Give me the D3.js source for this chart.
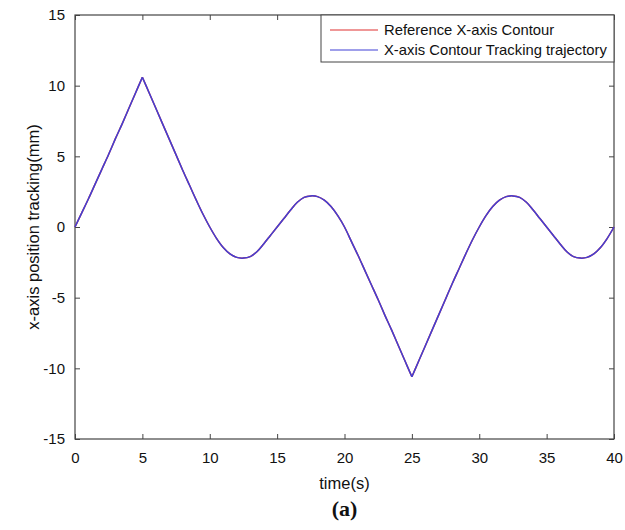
<!DOCTYPE html>
<html>
<head>
<meta charset="utf-8">
<script src="https://cdn.jsdelivr.net/npm/d3@7"></script>
<style>
body { margin: 0; background: #fff; }
text { font-family: "Liberation Sans", Arial, sans-serif; }
</style>
</head>
<body>
<svg id="chart" width="625" height="530"></svg>
<script>
// values (time in s, position in mm)
var timeValues = [0,0.5,1,1.5,2,2.5,3,3.5,4,4.5,5,5.5,6,6.5,7,7.5,8,8.5,9,9.5,
	10,10.5,11,11.5,12,12.5,13,13.5,14,14.5,15,15.5,16,16.5,17,17.5,18,18.5,19,19.5,
	20,20.5,21,21.5,22,22.5,23,23.5,24,24.5,25,25.5,26,26.5,27,27.5,28,28.5,29,29.5,
	30,30.5,31,31.5,32,32.5,33,33.5,34,34.5,35,35.5,36,36.5,37,37.5,38,38.5,39,39.5,40];
var referenceX = [0,1.0,2.0,3.05,4.1,5.15,6.25,7.3,8.4,9.5,10.6,9.5,8.4,7.3,6.2,5.1,4.0,2.95,1.9,0.9,
	0,-0.8,-1.45,-1.9,-2.15,-2.2,-2.1,-1.75,-1.2,-0.6,0,0.6,1.2,1.75,2.1,2.2,2.15,1.9,1.45,0.8,
	0,-1.0,-2.0,-3.05,-4.1,-5.15,-6.25,-7.3,-8.4,-9.5,-10.6,-9.5,-8.4,-7.3,-6.2,-5.1,-4.0,-2.95,-1.9,-0.9,
	0,0.8,1.45,1.9,2.15,2.2,2.1,1.75,1.2,0.6,0,-0.6,-1.2,-1.75,-2.1,-2.2,-2.15,-1.9,-1.45,-0.8,0];
var trackingX = [0,1.0,2.0,3.05,4.1,5.15,6.25,7.3,8.4,9.5,10.6,9.5,8.4,7.3,6.2,5.1,4.0,2.95,1.9,0.9,
	0,-0.8,-1.45,-1.9,-2.15,-2.2,-2.1,-1.75,-1.2,-0.6,0,0.6,1.2,1.75,2.1,2.2,2.15,1.9,1.45,0.8,
	0,-1.0,-2.0,-3.05,-4.1,-5.15,-6.25,-7.3,-8.4,-9.5,-10.6,-9.5,-8.4,-7.3,-6.2,-5.1,-4.0,-2.95,-1.9,-0.9,
	0,0.8,1.45,1.9,2.15,2.2,2.1,1.75,1.2,0.6,0,-0.6,-1.2,-1.75,-2.1,-2.2,-2.15,-1.9,-1.45,-0.8,0];
// sharp corners of the contour (t = 5 and t = 25)
var cornerTimes = [5, 25];
var xTicks = [0,5,10,15,20,25,30,35,40];
var yTicks = [-15,-10,-5,0,5,10,15];
var legendLabels = ["Reference X-axis Contour", "X-axis Contour Tracking trajectory"];
var seriesColors = ["#e03030", "#4040d6"];

var svg = d3.select("#chart");
var plotLeft = 75, plotRight = 614, plotTop = 15, plotBottom = 439;

var x = d3.scaleLinear().domain([0, 40]).range([plotLeft, plotRight]);
var y = d3.scaleLinear().domain([-15, 15]).range([plotBottom, plotTop]);

var axisColor = "#444";
var fmt = function(d) { return String(d); }; // plain hyphen minus like matlab

function styleAxis(g) {
	g.select(".domain").remove();
	g.selectAll("line").attr("stroke", axisColor);
	g.selectAll("text").attr("fill", "#111").style("font-size", "15px")
		.style("font-family", "'Liberation Sans', Arial, sans-serif");
}

// bottom / top
svg.append("g").attr("transform", "translate(0," + plotBottom + ")")
	.call(d3.axisBottom(x).tickValues(xTicks).tickFormat(fmt).tickSizeInner(-5).tickSizeOuter(0).tickPadding(13))
	.call(styleAxis);
svg.append("g").attr("transform", "translate(0," + plotTop + ")")
	.call(d3.axisTop(x).tickValues(xTicks).tickSizeInner(-5).tickSizeOuter(0).tickFormat(""))
	.call(styleAxis);
// left / right
svg.append("g").attr("transform", "translate(" + plotLeft + ",0)")
	.call(d3.axisLeft(y).tickValues(yTicks).tickFormat(fmt).tickSizeInner(-5).tickSizeOuter(0).tickPadding(10))
	.call(styleAxis);
svg.append("g").attr("transform", "translate(" + plotRight + ",0)")
	.call(d3.axisRight(y).tickValues(yTicks).tickSizeInner(-5).tickSizeOuter(0).tickFormat(""))
	.call(styleAxis);

svg.append("rect")
	.attr("x", plotLeft).attr("y", plotTop)
	.attr("width", plotRight - plotLeft).attr("height", plotBottom - plotTop)
	.attr("fill", "none").attr("stroke", axisColor).attr("stroke-width", 1.2);

var line = d3.line()
	.x(function(d) { return x(d[0]); })
	.y(function(d) { return y(d[1]); })
	.curve(d3.curveCatmullRom.alpha(0.5));

// split each series at the corners so the peaks stay sharp
function pieces(vals) {
	var pts = timeValues.map(function(t, k) { return [t, vals[k]]; });
	var out = [], cur = [];
	pts.forEach(function(p) {
		cur.push(p);
		if (cornerTimes.indexOf(p[0]) >= 0) { out.push(cur); cur = [p]; }
	});
	out.push(cur);
	return out;
}

var series = [referenceX, trackingX];
series.forEach(function(vals, i) {
	svg.append("g").selectAll("path")
		.data(pieces(vals))
		.join("path")
		.attr("fill", "none")
		.attr("stroke", seriesColors[i])
		.attr("stroke-width", 1.5)
		.attr("stroke-linejoin", "round")
		.attr("d", line);
});

// legend
var lg = svg.append("g");
lg.append("rect")
	.attr("x", 321).attr("y", plotTop).attr("width", plotRight - 321).attr("height", 47)
	.attr("fill", "#fff").attr("stroke", axisColor).attr("stroke-width", 1);
legendLabels.forEach(function(lbl, i) {
	var ly = 30 + i * 20;
	lg.append("line")
		.attr("x1", 330).attr("x2", 378).attr("y1", ly).attr("y2", ly)
		.attr("stroke", seriesColors[i]).attr("stroke-width", 1.2);
	lg.append("text")
		.attr("x", 384).attr("y", ly).attr("dy", "0.35em")
		.style("font-size", "14.8px").attr("fill", "#111")
		.text(lbl);
});

// axis titles
svg.append("text")
	.attr("x", (plotLeft + plotRight) / 2).attr("y", 483).attr("dy", "0.35em")
	.attr("text-anchor", "middle").style("font-size", "16.5px").attr("fill", "#111")
	.text("time(s)");
svg.append("text")
	.attr("transform", "translate(33," + y(0) + ") rotate(-90)")
	.attr("text-anchor", "middle").attr("dy", "0.35em")
	.style("font-size", "16.5px").attr("fill", "#111")
	.text("x-axis position tracking(mm)");
svg.append("text")
	.attr("x", (plotLeft + plotRight) / 2).attr("y", 508).attr("dy", "0.35em")
	.attr("text-anchor", "middle")
	.style("font-family", "'Liberation Serif', 'Times New Roman', serif")
	.style("font-size", "22px").style("font-weight", "bold").attr("fill", "#111")
	.text("(a)");
</script>
</body>
</html>
